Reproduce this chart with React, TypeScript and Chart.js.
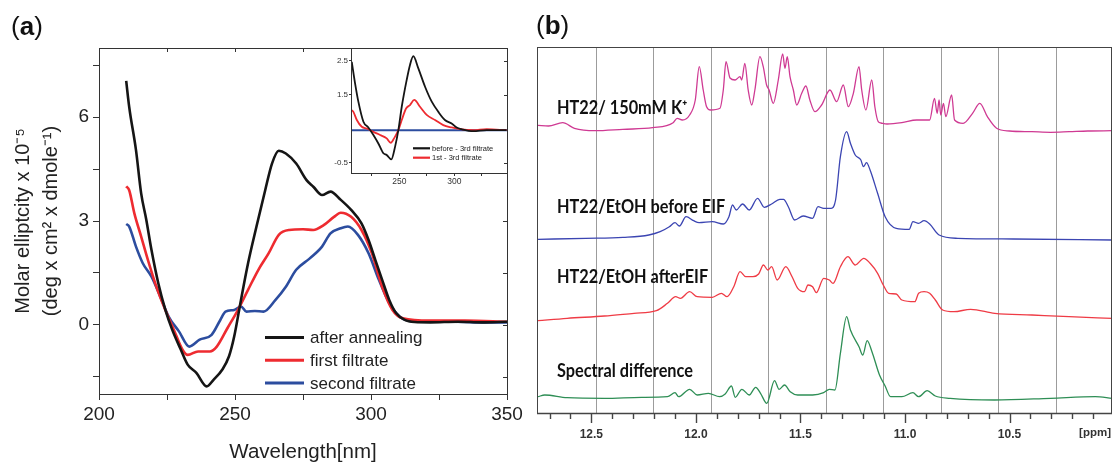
import React, { useEffect, useRef } from 'react';
import { Chart, registerables } from 'chart.js';

Chart.register(...registerables);

const SANS = '"Liberation Sans", Arial, Helvetica, sans-serif';
const LABEL_FONT = 'Lato, "Open Sans", sans-serif';

// ---------- Panel (a): CD spectra ----------
const wlAfter = [210, 211.1, 213.6, 215.5, 217.4, 219.3, 221.8, 224.4, 226.9, 230.1, 232.6, 235.8, 239.6, 242.1, 245.3, 247.8, 249.7, 252.2, 254.8, 257.9, 261.1, 263.6, 266.1, 268.7, 272.5, 276.3, 278.8, 282, 285.1, 288.9, 292.7, 296.5, 299.1, 301.6, 304.1, 306.7, 309.2, 312.4, 316, 321.8, 332, 340.8, 350];
const cdAfter = [7.05, 6.3, 5.05, 3.8, 3.03, 2.16, 1.2, 0.43, -0.14, -0.72, -1.15, -1.39, -1.78, -1.59, -1.3, -0.91, -0.34, 0.72, 1.78, 2.84, 3.89, 4.66, 5.03, 4.95, 4.66, 4.18, 3.99, 3.75, 3.85, 3.61, 3.32, 2.93, 2.45, 1.87, 1.3, 0.72, 0.34, 0.14, 0.08, 0.07, 0.09, 0.07, 0.09];

const wlFirst = [210, 211.1, 213, 215.5, 218, 221.1, 224.4, 227.5, 230.7, 232.6, 236.4, 240.8, 243.3, 247.2, 251, 254.8, 258.6, 262.4, 266.1, 269.9, 275, 278.8, 282.6, 286.4, 288.9, 292.7, 296.5, 300.3, 304.1, 307.9, 311.7, 321.8, 334.5, 350];
const cdFirst = [4.0, 3.89, 3.22, 2.55, 1.87, 1.1, 0.43, -0.14, -0.72, -0.87, -0.77, -0.77, -0.63, -0.1, 0.42, 1.01, 1.59, 2.07, 2.6, 2.74, 2.76, 2.74, 2.88, 3.12, 3.24, 3.12, 2.74, 2.07, 1.1, 0.43, 0.19, 0.12, 0.12, 0.09];

const wlSecond = [210, 211.1, 213.6, 216.1, 219.3, 222.5, 225.6, 229.4, 233.2, 237, 241.4, 244.6, 246.5, 249.7, 252.2, 254.2, 257.3, 260.5, 264.9, 268.7, 272.5, 277.5, 282, 285.1, 288.9, 291.5, 295.2, 299.1, 302.9, 306.7, 310.5, 315.6, 328.2, 340.8, 350];
const cdSecond = [2.91, 2.84, 2.26, 1.78, 1.39, 0.82, 0.24, -0.19, -0.63, -0.43, -0.29, 0.14, 0.38, 0.43, 0.53, 0.38, 0.4, 0.38, 0.72, 1.1, 1.59, 1.92, 2.26, 2.64, 2.79, 2.84, 2.6, 2.07, 1.3, 0.63, 0.24, 0.1, 0.1, 0.07, 0.07];

const xTicksA = [200, 225, 250, 275, 300, 325, 350];
const xLabelsA = [200, 250, 300, 350];
const yTicksA = [-1.5, 0, 1.5, 3, 4.5, 6, 7.5];
const yLabelsA = [0, 3, 6];

// ---------- Inset: difference spectra ----------
const wlDiffBefore = [206.7, 209.7, 212.7, 217.3, 221.8, 226.4, 230.9, 235.5, 238.5, 242.7, 246.1, 249.1, 252.2, 256.7, 259.7, 262.7, 267.3, 273.4, 279.5, 285.5, 291.5, 297.6, 302.2, 306.7, 317.3, 329.5, 347.6];
const diffBefore = [2.47, 1.84, 1.3, 0.71, 0.54, 0.32, 0.07, -0.22, -0.27, -0.4, -0.03, 0.46, 1.15, 1.94, 2.38, 2.64, 2.28, 1.74, 1.3, 1.0, 0.76, 0.66, 0.54, 0.49, 0.43, 0.46, 0.46];
const wlDiffFirst = [206.7, 208.2, 211.3, 215.8, 220.4, 226.4, 232.5, 238.5, 242.2, 245.2, 249.1, 252.2, 256.1, 259.7, 263.6, 268.8, 274.9, 282.5, 290, 297.6, 305.2, 317.3, 329.5, 347.6];
const diffFirst = [1.05, 1.0, 0.76, 0.56, 0.51, 0.41, 0.32, 0.22, 0.09, 0.22, 0.46, 0.76, 1.1, 1.2, 1.35, 1.15, 0.91, 0.76, 0.61, 0.54, 0.49, 0.46, 0.49, 0.46];
const wlDiffBase = [206, 348];
const diffBase = [0.46, 0.46];
const xTicksInset = [225, 250, 275, 300, 325];
const xLabelsInset = [250, 300];
const yTicksInset = [-0.5, 1.5, 2.5];

// ---------- Panel (b): NMR imino region ----------
const ppmK = [12.755, 12.705, 12.637, 12.581, 12.483, 12.349, 12.207, 12.109, 12.09, 12.065, 12.03, 12.003, 11.984, 11.965, 11.949, 11.93, 11.885, 11.869, 11.856, 11.837, 11.813, 11.789, 11.781, 11.766, 11.75, 11.733, 11.718, 11.694, 11.678, 11.662, 11.65, 11.63, 11.606, 11.585, 11.574, 11.563, 11.55, 11.534, 11.518, 11.494, 11.474, 11.455, 11.431, 11.399, 11.359, 11.327, 11.295, 11.271, 11.247, 11.22, 11.207, 11.187, 11.159, 11.144, 11.128, 11.115, 11.086, 11.015, 10.944, 10.882, 10.859, 10.846, 10.837, 10.829, 10.816, 10.805, 10.777, 10.763, 10.722, 10.677, 10.642, 10.606, 10.562, 10.5, 10.393, 10.304, 10.215, 10.126, 10.01];
const intK = [5.7, 5, 8.3, 2.7, 0.3, 1.7, 3.3, 8.3, 12.7, 11, 16, 31, 64.3, 41, 24.3, 21, 22.7, 41, 69.3, 53, 51, 54.3, 51, 67.7, 41, 26, 41, 74.3, 64.3, 46, 41, 27.7, 51, 77, 62.7, 74.3, 54.3, 41, 26, 37.7, 45, 31, 19.3, 26, 41, 29.3, 46, 24.3, 37.7, 64.3, 41, 21, 51, 24, 9.3, 8, 7, 8.3, 11, 11, 32.7, 17.7, 31, 16, 27.7, 14.3, 36, 11, 7.7, 17.7, 27.7, 14.3, 2.7, 0, -0.7, -1.3, -0.7, 0, 0.3];

const ppmBefore = [12.755, 12.527, 12.349, 12.225, 12.171, 12.127, 12.1, 12.079, 12.047, 12.011, 11.985, 11.922, 11.869, 11.842, 11.825, 11.807, 11.777, 11.745, 11.705, 11.673, 11.638, 11.599, 11.581, 11.558, 11.528, 11.487, 11.442, 11.416, 11.389, 11.353, 11.332, 11.309, 11.279, 11.261, 11.238, 11.211, 11.199, 11.184, 11.167, 11.131, 11.095, 11.042, 10.98, 10.962, 10.935, 10.909, 10.882, 10.837, 10.748, 10.482, 10.01];
const intBefore = [-0.3, 0.7, 1.7, 4, 7.3, 12.3, 16.3, 13, 22.3, 18.3, 16.3, 17.3, 15, 22.3, 34, 29, 35, 29, 40.7, 31.7, 35, 39.7, 39.7, 32.3, 19, 23, 20.7, 32.3, 30.7, 30.7, 39, 82.3, 107.3, 95.7, 84, 79, 72.3, 76.3, 69, 45.7, 22.3, 10.7, 9.7, 17.3, 15.7, 18.3, 15, 4, 0.7, 0, -1];

const ppmAfter = [12.755, 12.616, 12.438, 12.296, 12.189, 12.136, 12.097, 12.074, 12.03, 11.994, 11.922, 11.878, 11.851, 11.819, 11.789, 11.762, 11.727, 11.7, 11.677, 11.656, 11.638, 11.611, 11.57, 11.54, 11.513, 11.481, 11.464, 11.442, 11.424, 11.389, 11.362, 11.344, 11.309, 11.273, 11.238, 11.197, 11.167, 11.131, 11.104, 11.078, 11.042, 11.015, 10.953, 10.935, 10.909, 10.882, 10.855, 10.82, 10.766, 10.686, 10.571, 10.393, 10.215, 10.01];
const intAfter = [-3.7, -1.3, 1, 3.7, 6.3, 13.7, 20.3, 18.7, 25.3, 20.3, 19.7, 23.7, 20.3, 30.3, 45.3, 40.3, 40.3, 43, 52, 47, 50.3, 37, 50.3, 40.3, 28.7, 25.3, 32, 30.3, 24.3, 38.7, 37, 33.7, 50.3, 60.3, 52, 58.7, 53.7, 43.7, 32, 23.7, 23, 17, 15.3, 23.7, 25.3, 23.7, 17, 7, 5.3, 7.7, 3.7, 2, 0.3, -1.3];

const ppmDiff = [12.755, 12.723, 12.616, 12.438, 12.26, 12.136, 12.1, 12.083, 12.03, 11.994, 11.94, 11.887, 11.86, 11.83, 11.812, 11.78, 11.745, 11.714, 11.691, 11.661, 11.624, 11.602, 11.576, 11.549, 11.513, 11.442, 11.389, 11.362, 11.335, 11.309, 11.279, 11.261, 11.22, 11.202, 11.181, 11.158, 11.122, 11.095, 11.069, 11.015, 10.962, 10.935, 10.894, 10.855, 10.784, 10.571, 10.304, 10.09, 10.01];
const intDiff = [1.3, 3, 0.3, -0.3, 0.7, 1.3, 5.3, 1.3, 8.7, 3, 4.7, 1.3, 4, 12, 0.7, 8.7, 3, 10.7, 4.7, -5.3, 17.3, 8.7, 13, 6.3, 3, 3, 5.3, 8.7, 8, 44.7, 81.3, 68, 51.3, 43, 57.3, 46.3, 23, 12, 1.3, 1.3, 5.3, 1.3, 7.3, 2, -0.3, -2, -0.3, 1.3, -0.3];

const traceOffsets = [282, 174, 96, 15];
const traceNames = ['HT22/ 150mM K⁺', 'HT22/EtOH before EIF', 'HT22/EtOH afterEIF', 'Spectral difference'];
const ppmLabels = [12.5, 12.0, 11.5, 11.0, 10.5];
const ppmMinor = [12.7, 12.6, 12.5, 12.4, 12.3, 12.2, 12.1, 12.0, 11.9, 11.8, 11.7, 11.6, 11.5, 11.4, 11.3, 11.2, 11.1, 11.0, 10.9, 10.8, 10.7, 10.6, 10.5, 10.4, 10.3, 10.2, 10.1];
const ppmGrid = [12.48, 12.205, 11.93, 11.655, 11.38, 11.105, 10.83, 10.555, 10.28];

const pts = (xs: number[], ys: number[], off = 0) => xs.map((x, i) => ({ x, y: ys[i] + off }));

const BLACK = '#151515';
const RED = '#ee2b30';
const BLUE = '#2c4d9f';

function mainConfig(): any {
  const frame = {
    id: 'mainFrame',
    afterDraw(chart: any) {
      const { ctx, chartArea: a, scales } = chart;
      ctx.save();
      ctx.strokeStyle = '#333';
      ctx.lineWidth = 1;
      ctx.strokeRect(a.left + 0.5, a.top + 0.5, a.right - a.left, a.bottom - a.top);
      ctx.beginPath();
      xTicksA.forEach((v) => {
        const p = Math.round(scales.x.getPixelForValue(v)) + 0.5;
        ctx.moveTo(p, a.top);
        ctx.lineTo(p, a.top + 4);
      });
      yTicksA.forEach((v) => {
        const p = Math.round(scales.y.getPixelForValue(v)) + 0.5;
        ctx.moveTo(a.right, p);
        ctx.lineTo(a.right - 4, p);
      });
      ctx.stroke();
      ctx.restore();
    },
  };
  const legend = {
    id: 'mainLegend',
    afterDatasetsDraw(chart: any) {
      const { ctx, chartArea: a } = chart;
      ctx.save();
      ctx.font = `17px ${SANS}`;
      ctx.textBaseline = 'middle';
      ctx.fillStyle = '#222';
      chart.data.datasets.forEach((ds: any, i: number) => {
        const y = a.top + 289.5 + i * 22.7;
        ctx.strokeStyle = ds.borderColor;
        ctx.lineWidth = 3;
        ctx.beginPath();
        ctx.moveTo(a.left + 166, y);
        ctx.lineTo(a.left + 205, y);
        ctx.stroke();
        ctx.fillText(ds.label, a.left + 211, y + 1);
      });
      ctx.restore();
    },
  };
  const line = (label: string, xs: number[], ys: number[], color: string) => ({
    label,
    data: pts(xs, ys),
    borderColor: color,
    borderWidth: 2.6,
    pointRadius: 0,
    cubicInterpolationMode: 'monotone',
    fill: false,
  });
  return {
    type: 'line',
    data: {
      datasets: [
        line('after annealing', wlAfter, cdAfter, BLACK),
        line('first filtrate', wlFirst, cdFirst, RED),
        line('second filtrate', wlSecond, cdSecond, BLUE),
      ],
    },
    options: {
      animation: false,
      responsive: false,
      events: [],
      layout: { padding: { left: 0, right: 23, top: 48, bottom: 0 } },
      scales: {
        x: {
          type: 'linear',
          min: 200,
          max: 350,
          afterBuildTicks: (s: any) => { s.ticks = xTicksA.map((v) => ({ value: v })); },
          afterFit: (s: any) => { s.height = 69; },
          ticks: {
            callback: (v: number) => (xLabelsA.includes(v) ? String(v) : ''),
            font: { family: SANS, size: 19 },
            color: '#222',
            padding: 3,
            maxRotation: 0,
            autoSkip: false,
          },
          grid: { drawOnChartArea: false, tickLength: 6, color: '#333' },
          border: { color: '#333' },
          title: {
            display: true,
            text: 'Wavelength[nm]',
            font: { family: SANS, size: 20.5, lineHeight: 1.05 },
            color: '#222',
            padding: { top: 0, bottom: 0 },
          },
        },
        y: {
          min: -2,
          max: 8,
          afterBuildTicks: (s: any) => { s.ticks = yTicksA.map((v) => ({ value: v })); },
          afterFit: (s: any) => { s.width = 99; },
          ticks: {
            callback: (v: number) => (yLabelsA.includes(v) ? String(v) : ''),
            font: { family: SANS, size: 19 },
            color: '#222',
            padding: 4,
            autoSkip: false,
          },
          grid: { drawOnChartArea: false, tickLength: 6, color: '#333' },
          border: { color: '#333' },
          title: {
            display: true,
            text: ['Molar elliptcity x 10⁻⁵', '(deg x cm² x dmole⁻¹)'],
            font: { family: SANS, size: 20, lineHeight: 1.38 },
            color: '#222',
            padding: { top: 10, bottom: 0 },
          },
        },
      },
      plugins: { legend: { display: false }, tooltip: { enabled: false } },
    },
    plugins: [frame, legend],
  };
}

function insetConfig(): any {
  const frame = {
    id: 'insetFrame',
    beforeDatasetsDraw(chart: any) {
      const { ctx, chartArea: a } = chart;
      ctx.save();
      ctx.fillStyle = '#fff';
      ctx.fillRect(a.left, a.top, a.right - a.left, a.bottom - a.top);
      ctx.restore();
    },
    afterDraw(chart: any) {
      const { ctx, chartArea: a, scales } = chart;
      ctx.save();
      ctx.strokeStyle = '#333';
      ctx.lineWidth = 1;
      ctx.strokeRect(a.left + 0.5, a.top + 0.5, a.right - a.left, a.bottom - a.top);
      ctx.beginPath();
      yTicksInset.forEach((v) => {
        const p = Math.round(scales.y.getPixelForValue(v)) + 0.5;
        ctx.moveTo(a.right, p);
        ctx.lineTo(a.right - 3, p);
      });
      ctx.stroke();
      // legend
      ctx.font = `7.5px ${SANS}`;
      ctx.textBaseline = 'middle';
      ctx.fillStyle = '#222';
      chart.data.datasets.slice(0, 2).forEach((ds: any, i: number) => {
        const y = a.top + 100.3 + i * 9.4;
        ctx.strokeStyle = ds.borderColor;
        ctx.lineWidth = 2.2;
        ctx.beginPath();
        ctx.moveTo(a.left + 62, y);
        ctx.lineTo(a.left + 79, y);
        ctx.stroke();
        ctx.fillText(ds.label, a.left + 81, y + 0.5);
      });
      ctx.restore();
    },
  };
  const line = (label: string, xs: number[], ys: number[], color: string, w: number) => ({
    label,
    data: pts(xs, ys),
    borderColor: color,
    borderWidth: w,
    pointRadius: 0,
    cubicInterpolationMode: 'monotone',
    fill: false,
  });
  return {
    type: 'line',
    data: {
      datasets: [
        line('before - 3rd filtrate', wlDiffBefore, diffBefore, BLACK, 1.8),
        line('1st - 3rd filtrate', wlDiffFirst, diffFirst, RED, 1.8),
        line('3rd filtrate', wlDiffBase, diffBase, BLUE, 2),
      ],
    },
    options: {
      animation: false,
      responsive: false,
      events: [],
      layout: { padding: { left: 0, right: 8, top: 8, bottom: 0 } },
      scales: {
        x: {
          type: 'linear',
          min: 206,
          max: 348,
          afterBuildTicks: (s: any) => { s.ticks = xTicksInset.map((v) => ({ value: v })); },
          afterFit: (s: any) => { s.height = 17; },
          ticks: {
            callback: (v: number) => (xLabelsInset.includes(v) ? String(v) : ''),
            font: { family: SANS, size: 8.5 },
            color: '#333',
            padding: 1,
            maxRotation: 0,
            autoSkip: false,
          },
          grid: { drawOnChartArea: false, tickLength: 3, color: '#333' },
          border: { color: '#333' },
        },
        y: {
          min: -0.8,
          max: 2.88,
          afterBuildTicks: (s: any) => { s.ticks = yTicksInset.map((v) => ({ value: v })); },
          afterFit: (s: any) => { s.width = 31; },
          ticks: {
            callback: (v: number) => String(v),
            font: { family: SANS, size: 8 },
            color: '#333',
            padding: 1,
            autoSkip: false,
          },
          grid: { drawOnChartArea: false, tickLength: 2, color: '#333' },
          border: { color: '#333' },
        },
      },
      plugins: { legend: { display: false }, tooltip: { enabled: false } },
    },
    plugins: [frame],
  };
}

function nmrConfig(): any {
  const deco = {
    id: 'nmrDeco',
    beforeDatasetsDraw(chart: any) {
      const { ctx, chartArea: a, scales } = chart;
      ctx.save();
      ctx.strokeStyle = '#9c9c9c';
      ctx.lineWidth = 1;
      ctx.beginPath();
      ppmGrid.forEach((v) => {
        const p = Math.round(scales.x.getPixelForValue(v)) + 0.5;
        ctx.moveTo(p, a.top);
        ctx.lineTo(p, a.bottom);
      });
      ctx.stroke();
      ctx.restore();
    },
    afterDraw(chart: any) {
      const { ctx, chartArea: a, scales } = chart;
      ctx.save();
      ctx.strokeStyle = '#444';
      ctx.lineWidth = 1;
      ctx.strokeRect(a.left + 0.5, a.top + 0.5, a.right - a.left - 1, a.bottom - a.top);
      ctx.lineWidth = 1.4;
      ctx.beginPath();
      ctx.moveTo(a.left, a.bottom + 0.5);
      ctx.lineTo(a.right, a.bottom + 0.5);
      ppmMinor.forEach((v) => {
        const p = Math.round(scales.x.getPixelForValue(v)) + 0.5;
        const len = ppmLabels.some((m) => Math.abs(m - v) < 1e-6) ? 10 : 6;
        ctx.moveTo(p, a.bottom);
        ctx.lineTo(p, a.bottom + len);
      });
      ctx.stroke();
      // trace labels
      ctx.fillStyle = '#111';
      ctx.font = `bold 16.3px ${LABEL_FONT}`;
      ctx.textBaseline = 'middle';
      const labelY = [108.3, 206.7, 277.3, 370.7];
      traceNames.forEach((t, i) => {
        ctx.save();
        ctx.translate(a.left + 20, labelY[i]);
        ctx.scale(1, 1.12);
        ctx.fillText(t, 0, 0);
        ctx.restore();
      });
      ctx.font = `bold 11.5px ${SANS}`;
      ctx.fillStyle = '#333';
      ctx.textAlign = 'right';
      ctx.fillText('[ppm]', a.right - 1, a.bottom + 20);
      ctx.restore();
    },
  };
  const colors = ['#cf3a93', '#3b45b2', '#ef3b45', '#2e8e55'];
  const series: [number[], number[]][] = [
    [ppmK, intK],
    [ppmBefore, intBefore],
    [ppmAfter, intAfter],
    [ppmDiff, intDiff],
  ];
  return {
    type: 'line',
    data: {
      datasets: series.map(([xs, ys], i) => ({
        label: traceNames[i],
        data: pts(xs, ys, traceOffsets[i]),
        borderColor: colors[i],
        borderWidth: 1.3,
        pointRadius: 0,
        cubicInterpolationMode: 'monotone',
        fill: false,
      })),
    },
    options: {
      animation: false,
      responsive: false,
      events: [],
      layout: { padding: { left: 7, right: 1, top: 47, bottom: 0 } },
      scales: {
        x: {
          type: 'linear',
          reverse: true,
          min: 10.01,
          max: 12.76,
          afterBuildTicks: (s: any) => { s.ticks = ppmLabels.map((v) => ({ value: v })); },
          afterFit: (s: any) => { s.height = 50; },
          ticks: {
            callback: (v: number) => v.toFixed(1),
            font: { family: SANS, size: 12, weight: 'bold' },
            color: '#333',
            padding: 4,
            maxRotation: 0,
            autoSkip: false,
          },
          grid: { drawOnChartArea: false, tickLength: 10, color: 'rgba(0,0,0,0)' },
          border: { display: false },
        },
        y: { display: false, min: 0, max: 366 },
      },
      plugins: { legend: { display: false }, tooltip: { enabled: false } },
    },
    plugins: [deco],
  };
}

export default function App() {
  const mainRef = useRef<HTMLCanvasElement>(null);
  const insetRef = useRef<HTMLCanvasElement>(null);
  const nmrRef = useRef<HTMLCanvasElement>(null);

  useEffect(() => {
    const charts = [
      new Chart(mainRef.current as HTMLCanvasElement, mainConfig()),
      new Chart(insetRef.current as HTMLCanvasElement, insetConfig()),
      new Chart(nmrRef.current as HTMLCanvasElement, nmrConfig()),
    ];
    return () => charts.forEach((c) => c.destroy());
  }, []);

  const panelLabel: React.CSSProperties = {
    position: 'absolute',
    fontFamily: SANS,
    fontSize: 26,
    lineHeight: '34px',
    color: '#111',
    margin: 0,
  };

  return (
    <div style={{ position: 'fixed', left: 0, top: 0, width: 1113, height: 463, background: '#fff', overflow: 'hidden' }}>
      <canvas ref={mainRef} width={530} height={463} style={{ position: 'absolute', left: 0, top: 0, width: 530, height: 463 }} />
      <canvas ref={insetRef} width={195} height={150} style={{ position: 'absolute', left: 320, top: 40, width: 195, height: 150 }} />
      <canvas ref={nmrRef} width={583} height={463} style={{ position: 'absolute', left: 530, top: 0, width: 583, height: 463 }} />
      <div style={{ ...panelLabel, left: 11, top: 9 }}>(<b>a</b>)</div>
      <div style={{ ...panelLabel, left: 536, top: 8 }}>(<b>b</b>)</div>
    </div>
  );
}
